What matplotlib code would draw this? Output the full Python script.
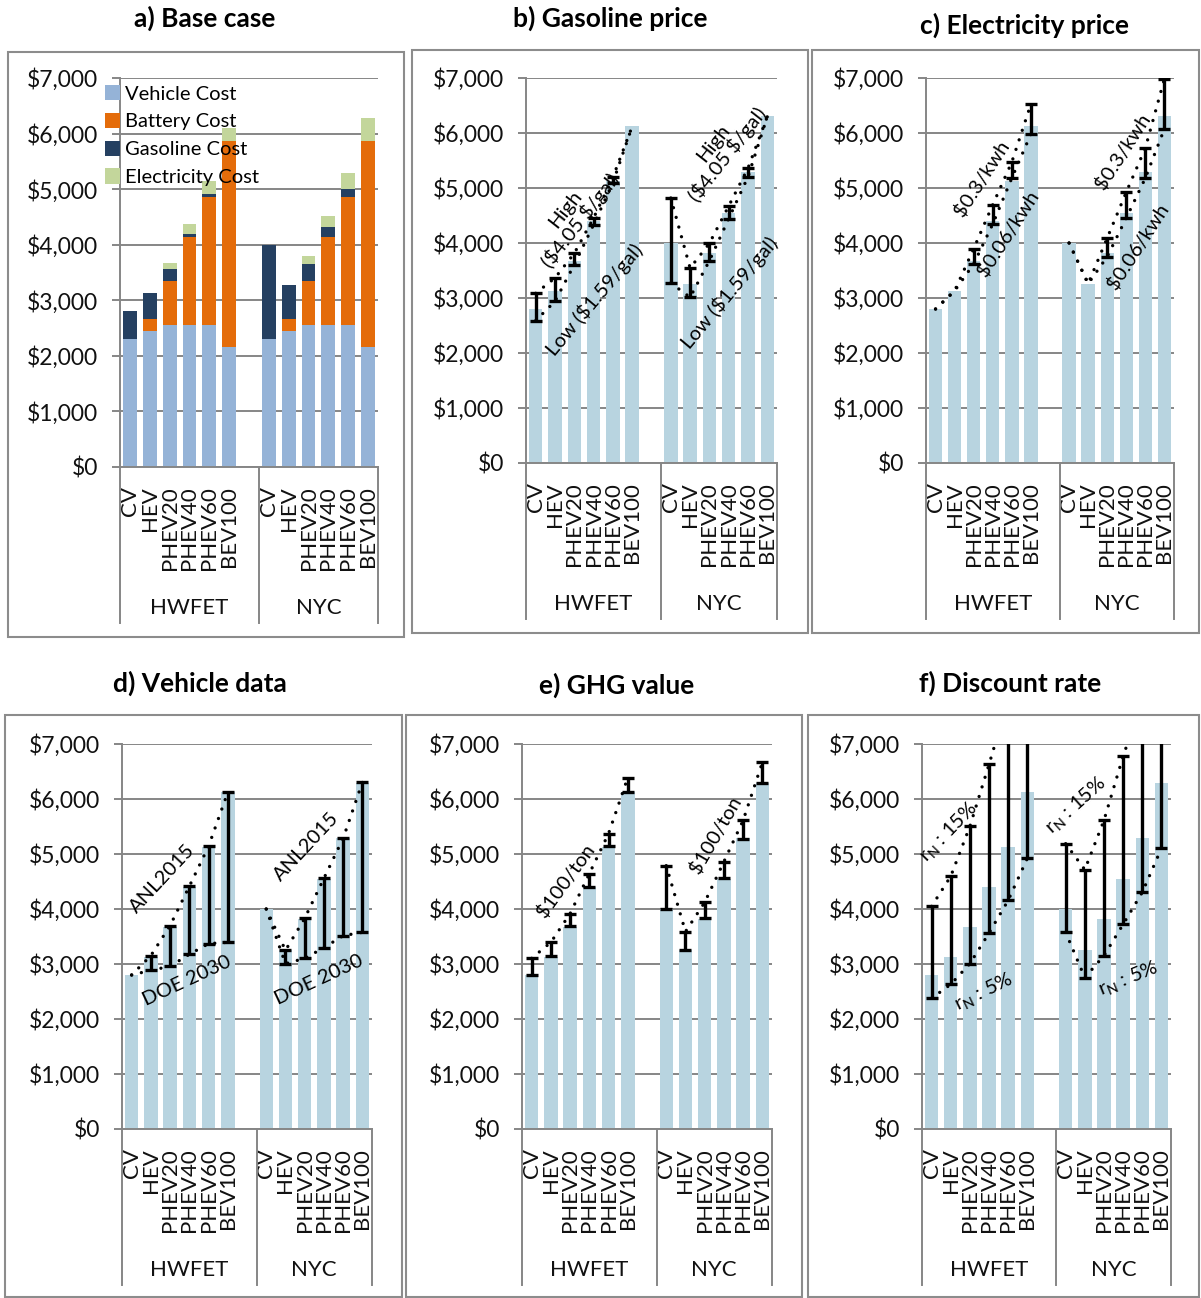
import numpy as np
import matplotlib
matplotlib.use('Agg')
import matplotlib.pyplot as plt
from matplotlib.patches import Rectangle
from matplotlib.transforms import blended_transform_factory

plt.rcParams['font.family'] = ['Lato', 'DejaVu Sans']
plt.rcParams['mathtext.default'] = 'regular'

W, H = 1201, 1298

vehicles = ['CV', 'HEV', 'PHEV20', 'PHEV40', 'PHEV60', 'BEV100']
cycles = ['HWFET', 'NYC']
nan = np.nan

# a) base case, HWFET then NYC
vehicle_cost = [2300, 2450, 2550, 2550, 2550, 2160, 2300, 2450, 2550, 2550, 2550, 2160]
battery_cost = [0, 210, 790, 1580, 2300, 3700, 0, 210, 790, 1580, 2300, 3700]
gasoline_cost = [500, 470, 215, 70, 60, 0, 1690, 610, 310, 180, 145, 0]
electricity_cost = [0, 0, 110, 180, 230, 240, 0, 0, 155, 215, 290, 420]

base_total = [2800, 3130, 3680, 4400, 5130, 6120, 4000, 3260, 3820, 4540, 5290, 6300]

# b) gasoline price
gas_high = [3085, 3364, 3812, 4455, 5194, nan, 4818, 3545, 3994, 4673, 5364, nan]
gas_low = [2588, 2939, 3606, 4333, 5097, nan, 3273, 3012, 3679, 4442, 5206, nan]
# c) electricity price
elec_high = [nan, nan, 3897, 4697, 5473, 6527, nan, nan, 4091, 4927, 5727, 6988]
elec_low = [nan, nan, 3618, 4345, 5182, 5982, nan, nan, 3752, 4455, 5182, 6079]
# d) vehicle data
anl2015 = [nan, 3152, 3697, 4412, 5139, 6121, nan, 3248, 3830, 4558, 5285, 6303]
doe2030 = [nan, 2885, 2958, 3176, 3370, 3394, nan, 3006, 3103, 3297, 3515, 3576]
# e) GHG value
ghg_high = [3103, 3394, 3915, 4642, 5370, 6388, 4788, 3588, 4121, 4861, 5612, 6667]
ghg_low = [2800, 3152, 3685, 4400, 5139, 6121, 4000, 3248, 3830, 4558, 5273, 6291]
# f) discount rate
rate15 = [4048, 4594, 5503, 6630, 7800, 9000, 5188, 4715, 5612, 6776, 7800, 9100]
rate5 = [2376, 2630, 3006, 3564, 4158, 4921, 3576, 2752, 3152, 3721, 4303, 5103]

GRID = '#868686'
BAR = '#b8d4e0'
x = np.concatenate([np.arange(6), np.arange(6) + 7])

fig = plt.figure(figsize=(W / 100, H / 100), dpi=100)

# panel frames
for l, t, r, b in [(8, 52, 404, 637), (412, 50, 808, 633), (812, 50, 1199, 633),
                   (5, 715, 402, 1297), (406, 715, 802, 1297), (808, 715, 1199, 1297)]:
    fig.add_artist(Rectangle((l / W, 1 - b / H), (r - l) / W, (b - t) / H,
                             transform=fig.transFigure, fill=False,
                             edgecolor='#8c8c8c', lw=1.5))

titles = [('a) Base case', 205, 18), ('b) Gasoline price', 610, 18),
          ('c) Electricity price', 1025, 25), ('d) Vehicle data', 200, 683),
          ('e) GHG value', 617, 685), ('f) Discount rate', 1010, 683)]
for s, tx, ty in titles:
    fig.text(tx / W, 1 - ty / H, s, ha='center', va='center', fontsize=19,
             fontweight='bold')


def make_axes(l, t, r, b):
    ax = fig.add_axes([l / W, 1 - b / H, (r - l) / W, (b - t) / H])
    ax.set_xlim(-0.5, 12.5)
    ax.set_ylim(0, 7000)
    ax.set_yticks(range(0, 7001, 1000))
    ax.yaxis.set_major_formatter(lambda v, p: '${:,.0f}'.format(v))
    ax.grid(axis='y', color=GRID, lw=1.4)
    ax.set_axisbelow(True)
    ax.spines['top'].set_visible(False)
    ax.spines['right'].set_visible(False)
    for s in ['left', 'bottom']:
        ax.spines[s].set_color(GRID)
        ax.spines[s].set_linewidth(1.4)
    ax.tick_params(axis='y', length=6, width=1.4, color=GRID, labelsize=16.5,
                   pad=10, labelcolor='#111111')
    ax.set_xticks(x, vehicles * 2, rotation=90, fontsize=16, va='top')
    ax.tick_params(axis='x', length=0, pad=14, labelcolor='#111111')
    depth = 156 / (b - t)
    for xs in [-0.5, 6.5, 12.5]:
        ax.axvline(xs, ymin=-depth, ymax=0, color=GRID, lw=1.4, clip_on=False)
    tr = blended_transform_factory(ax.transData, ax.transAxes)
    for gx, name in zip([3, 9.5], cycles):
        ax.text(gx, -141 / (b - t), name, transform=tr, ha='center',
                va='center', fontsize=16, color='#111111')
    return ax


def error_panel(ax, high, low, lines, notes):
    ax.bar(x, base_total, width=0.7, color=BAR, zorder=2)
    high = np.array(high, float)
    low = np.array(low, float)
    m = ~np.isnan(high)
    ax.errorbar(x[m], (high[m] + low[m]) / 2, yerr=(high[m] - low[m]) / 2,
                fmt='none', ecolor='black', elinewidth=2.4, capsize=4.5,
                capthick=2.4, zorder=4)
    for vals in lines:
        v = np.where(np.isnan(np.array(vals, float)), base_total, vals)
        for g in range(2):
            sl = slice(6 * g, 6 * g + 6)
            ax.plot(x[sl], v[sl], color='black', lw=2.4,
                    linestyle=(0, (0.01, 3.0)), dash_capstyle='round', zorder=5)
    for s, tx, ty, rot in notes:
        ax.text(tx, ty, s, rotation=rot, ha='center', va='center', fontsize=14.5,
                rotation_mode='anchor', zorder=6, linespacing=1.0)


# a) base case
ax = make_axes(120, 78, 378, 467)
bottom = np.zeros(12)
for vals, color, label in [(vehicle_cost, '#95b3d7', 'Vehicle Cost'),
                           (battery_cost, '#e46c0a', 'Battery Cost'),
                           (gasoline_cost, '#254061', 'Gasoline Cost'),
                           (electricity_cost, '#c3d69b', 'Electricity Cost')]:
    ax.bar(x, vals, bottom=bottom, width=0.7, color=color, label=label, zorder=2)
    bottom += np.array(vals)
ax.legend(loc='upper left', bbox_to_anchor=(105 / W, 1 - 85 / H),
          bbox_transform=fig.transFigure, frameon=False, fontsize=14.5,
          handlelength=0.75, handleheight=0.8, handletextpad=0.25,
          labelspacing=0.5, borderpad=0, borderaxespad=0)

# b) gasoline price
ax = make_axes(526, 78, 777, 463)
error_panel(ax, gas_high, gas_low, [gas_high, gas_low],
            [('High\n(\\$4.05 \\$/gal)', 1.95, 4500, 52),
             ('Low (\\$1.59/gal)', 3.05, 2970, 50),
             ('High\n(\\$4.05 \\$/gal)', 9.6, 5700, 52),
             ('Low (\\$1.59/gal)', 10.05, 3090, 50)])

# c) electricity price
ax = make_axes(926, 78, 1174, 463)
error_panel(ax, elec_high, elec_low, [elec_high, elec_low],
            [('\\$0.3/kwh', 2.4, 5180, 57),
             ('\\$0.06/kwh', 3.8, 4180, 57),
             ('\\$0.3/kwh', 9.8, 5670, 57),
             ('\\$0.06/kwh', 10.6, 3940, 57)])

# d) vehicle data
ax = make_axes(122, 744, 372, 1129)
error_panel(ax, anl2015, doe2030, [anl2015, doe2030],
            [('ANL2015', 1.6, 4560, 47),
             ('DOE 2030', 2.9, 2690, 25),
             ('ANL2015', 9.1, 5140, 47),
             ('DOE 2030', 9.75, 2715, 25)])

# e) GHG value
ax = make_axes(522, 744, 772, 1129)
error_panel(ax, ghg_high, ghg_low, [ghg_high],
            [('\\$100/ton', 1.75, 4520, 54),
             ('\\$100/ton', 9.55, 5350, 60)])

# f) discount rate
ax = make_axes(922, 744, 1171, 1129)
error_panel(ax, rate15, rate5, [rate15, rate5],
            [('r$_N$ : 15%', 0.9, 5410, 46),
             ('r$_N$ : 5%', 2.7, 2500, 26),
             ('r$_N$ : 15%', 7.55, 5890, 42),
             ('r$_N$ : 5%', 10.25, 2730, 22)])

fig.savefig('out.png', dpi=100)
